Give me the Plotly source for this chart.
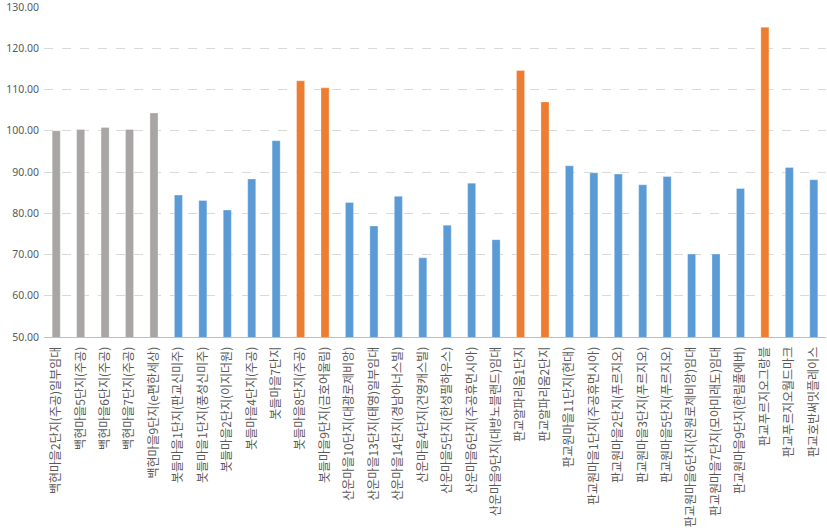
import plotly.graph_objects as go

categories = [
    "백현마을2단지(주공)일부임대", "백현마을5단지(주공)", "백현마을6단지(주공)", "백현마을7단지(주공)",
    "백현마을9단지(e편한세상)", "봇들마을1단지(판교신미주)", "봇들마을1단지(풍성신미주)", "봇들마을2단지(이지더원)",
    "봇들마을4단지(주공)", "봇들마을7단지", "봇들마을8단지(주공)", "봇들마을9단지(금호어울림)",
    "산운마을10단지(대광로제비앙)", "산운마을13단지(태영)일부임대", "산운마을14단지(경남아너스빌)", "산운마을4단지(건영캐스빌)",
    "산운마을5단지(한성필하우스)", "산운마을6단지(주공휴먼시아)", "산운마을9단지(대방노블랜드)임대", "판교알파리움1단지",
    "판교알파리움2단지", "판교원마을11단지(현대)", "판교원마을1단지(주공휴먼시아)", "판교원마을2단지(푸르지오)",
    "판교원마을3단지(푸르지오)", "판교원마을5단지(푸르지오)", "판교원마을6단지(진원로제비앙)임대", "판교원마을7단지(모아미래도)임대",
    "판교원마을9단지(한림풀에버)", "판교푸르지오그랑블", "판교푸르지오월드마크", "판교호반써밋플레이스",
]
values = [
    100.0, 100.3, 100.8, 100.3, 104.3, 84.4, 83.1, 80.8,
    88.3, 97.6, 112.1, 110.4, 82.6, 76.9, 84.1, 69.2,
    77.1, 87.3, 73.6, 114.6, 107.0, 91.5, 89.8, 89.5,
    86.9, 88.9, 70.1, 70.1, 86.0, 125.1, 91.1, 88.1,
]
groups = [
    "gray", "gray", "gray", "gray", "gray", "blue", "blue", "blue",
    "blue", "blue", "orange", "orange", "blue", "blue", "blue", "blue",
    "blue", "blue", "blue", "orange", "orange", "blue", "blue", "blue",
    "blue", "blue", "blue", "blue", "blue", "orange", "blue", "blue",
]
palette = {"gray": "#A9A5A4", "blue": "#5B9BD5", "orange": "#ED7D31"}
colors = [palette[g] for g in groups]

fig = go.Figure(go.Bar(
    x=categories, y=values,
    marker=dict(color=colors, line=dict(color="rgba(255,255,255,0.5)", width=0.6)),
    hovertemplate="%{x}: %{y:.2f}<extra></extra>",
))

fig.update_layout(
    width=827, height=528,
    margin=dict(l=44, r=1, t=7, b=191, autoexpand=False),
    plot_bgcolor="white", paper_bgcolor="white",
    bargap=0.67, showlegend=False,
    font=dict(family="Noto Sans CJK KR, Noto Sans, sans-serif", size=11, color="#595959"),
)
fig.update_yaxes(
    range=[50, 130], dtick=10, tick0=50, tickformat=".2f",
    showgrid=True, gridcolor="#D9D9D9", griddash="dash", gridwidth=1,
    zeroline=False, showline=False, ticks="", automargin=False,
    ticklabeloverflow="allow", ticklabelstandoff=4,
    tickfont=dict(family="Noto Sans, sans-serif", size=10.5, color="#595959"),
)
fig.update_xaxes(
    tickangle=-90, showline=True, linecolor="#BFBFBF", linewidth=1,
    ticks="", automargin=False, ticklabelstandoff=4,
    tickfont=dict(family="Noto Sans CJK KR", size=12, color="#595959"),
)

fig.write_html(
    "out.html",
    config={"displayModeBar": False},
    post_script="document.body.style.margin='0';document.body.style.overflow='hidden';",
)
